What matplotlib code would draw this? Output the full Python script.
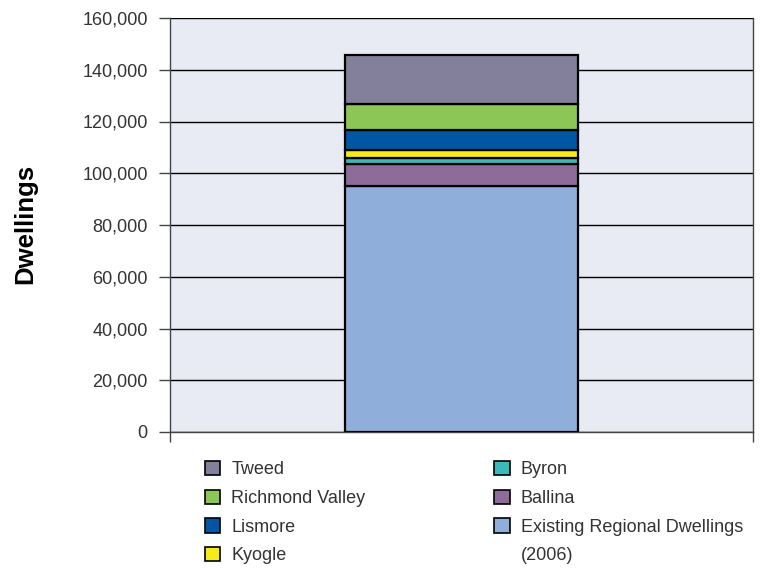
import matplotlib
matplotlib.use('Agg')
import matplotlib.pyplot as plt
from matplotlib.patches import Patch
from matplotlib.ticker import FuncFormatter

plt.rcParams['font.family'] = ['Liberation Sans', 'DejaVu Sans']

# stacked segments, bottom to top
regions = ['Existing Regional Dwellings (2006)', 'Ballina', 'Byron', 'Kyogle',
           'Lismore', 'Richmond Valley', 'Tweed']
dwellings = [95000, 8700, 2200, 2900, 7900, 10200, 18800]
colors = ['#8FAEDA', '#8E6C9A', '#3BB8B8', '#F5EB1A', '#0055A5', '#8CC656', '#82809A']
yticks = [0, 20000, 40000, 60000, 80000, 100000, 120000, 140000, 160000]

fig = plt.figure(figsize=(7.63, 5.68), dpi=100)
ax = fig.add_axes([170/763, 1-432/568, 583/763, 414/568])
ax.set_facecolor('#E8EAF4')

bottom = 0
for name, v, c in zip(regions, dwellings, colors):
    ax.bar(0, v, width=0.4, bottom=bottom, color=c, edgecolor='black',
           linewidth=1.6, zorder=3)
    bottom += v

ax.set_xlim(-0.5, 0.5)
ax.set_ylim(0, 160000)
ax.set_yticks(yticks)
ax.yaxis.set_major_formatter(FuncFormatter(lambda v, p: '{:,.0f}'.format(v)))
ax.set_xticks([-0.5, 0.5])
ax.set_xticklabels([])
ax.grid(axis='y', color='black', linewidth=1, zorder=1)
ax.tick_params(axis='y', direction='out', length=8, width=1, colors='#444444',
               labelsize=13, pad=8, labelcolor='#333333')
ax.tick_params(axis='x', direction='out', length=7, width=1, colors='#444444')
for s in ax.spines.values():
    s.set_color('#444444')
    s.set_linewidth(1)
ax.spines['top'].set_visible(False)

fig.text(25/763, 1-224/568, 'Dwellings', rotation=90, fontsize=18.5,
         fontweight='bold', ha='center', va='center')

# legend: column-major, second column ends with wrapped "(2006)"
order = [6, 5, 4, 3, 2, 1, 0]
handles = [Patch(facecolor=colors[i], edgecolor='black', linewidth=1.2) for i in order]
labels = ['Tweed', 'Richmond Valley', 'Lismore', 'Kyogle', 'Byron', 'Ballina',
          'Existing Regional Dwellings']
handles.append(Patch(facecolor='none', edgecolor='none'))
labels.append('(2006)')
leg = fig.legend(handles, labels, ncol=2, loc='upper left',
                 bbox_to_anchor=(205/763, 1-461/568), frameon=False,
                 fontsize=13, handlelength=0.85, handleheight=0.85,
                 handletextpad=0.6, labelspacing=0.62, columnspacing=7.15,
                 borderaxespad=0, borderpad=0)
for t in leg.get_texts():
    t.set_color('#333333')

fig.savefig('out.png', dpi=100)
